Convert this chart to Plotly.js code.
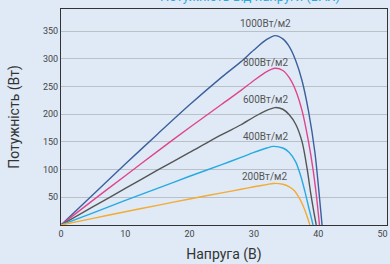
<!DOCTYPE html>
<html><head><meta charset="utf-8">
<script src="https://cdn.plot.ly/plotly-3.0.1.min.js"></script>
<style>html,body{margin:0;padding:0;background:#dfeaf6;}#c{width:390px;height:264px;}</style>
</head><body><div id="c"></div>
<script>
const v1000 = [0,5,10,15,20,25,28,30,32,33.3,34.5,35.5,36.5,37.5,38.5,39.5,40.1,40.6];
const p1000 = [0,55,110,164,217,267,295,316,335,342,336,322,297,260,205,130,62,0];
const v800 = [0,5,10,15,20,25,28,30,32,33.3,34.5,35.5,36.5,37.5,38.5,39.2,39.7,40.2];
const p800 = [0,45,89,133,176,218,243,261,277,283,279,266,243,206,150,100,55,0];
const v600 = [0,5,10,15,20,25,28,30,32,33.3,34.5,35.5,36.5,37.5,38.3,38.8,39.3,39.7];
const p600 = [0,33,66,99,131,163,181,195,207,212,209,199,182,150,100,60,25,0];
const v400 = [0,5,10,15,20,25,28,30,32,33,34.5,35.5,36.5,37.3,37.9,38.5,39.2];
const p400 = [0,22,44.5,66,88,109,122,131,139,142,139,131,114,88,62,33,0];
const v200 = [0,5,10,15,20,25,28,30,32,33,34.5,35.5,36.3,37,37.6,38.2,38.7];
const p200 = [0,12,24,35.5,47,58,64.5,69,73,75,73.5,69,62,50,36,18,0];

const seriesNames = ["1000Вт/м2","800Вт/м2","600Вт/м2","400Вт/м2","200Вт/м2"];
const labelX = [31.8,31.8,31.8,31.8,31.6];
const labelY = [364,293,226,159,87];
const xTicks = [0,10,20,30,40,50];
const yTicks = [50,100,150,200,250,300,350];
const titleText = "Потужність від напруги (ВАХ)";

const colors = ["#3d5f9c","#e0458c","#555555","#27aae1","#f2ab33"];
const xs = [v1000,v800,v600,v400,v200];
const ys = [p1000,p800,p600,p400,p200];
const traces = xs.map((x,i)=>({x:x,y:ys[i],type:"scatter",mode:"lines",name:seriesNames[i],
  line:{color:colors[i],width:1.4,shape:"spline",smoothing:0.8},hoverinfo:"skip"}));

const annos = seriesNames.map((t,i)=>({x:labelX[i],y:labelY[i],text:t,showarrow:false,xanchor:"center",yanchor:"middle",
    font:{size:10,color:"#555"}}));
annos.push({xref:"paper",yref:"paper",x:0.58,y:1,yshift:3,xanchor:"center",yanchor:"bottom",showarrow:false,
  text:titleText,font:{size:13,color:"#29a8e0"}});

const layout = {
  width:390,height:264,
  paper_bgcolor:"#dfeaf6",plot_bgcolor:"#dfeaf6",
  margin:{l:61,r:3,t:9,b:39},
  showlegend:false,
  font:{family:"Roboto, sans-serif",color:"#444"},
  xaxis:{range:[0,50.7],tickvals:xTicks,ticktext:xTicks.map(String),showgrid:false,zeroline:false,
    showline:true,mirror:true,linecolor:"#333",linewidth:1,ticks:"",tickfont:{size:9,color:"#444"},
    title:{text:"Напруга (В)",font:{size:14,color:"#333"},standoff:11}},
  yaxis:{range:[0,390],tickvals:yTicks,ticktext:yTicks.map(String),showgrid:true,gridcolor:"#b9c0c8",gridwidth:1,zeroline:false,
    showline:true,mirror:true,linecolor:"#333",linewidth:1,ticks:"",tickfont:{size:9,color:"#444"},
    title:{text:"Потужність (Вт)",font:{size:14,color:"#333"},standoff:20}},
  annotations: annos
};
Plotly.newPlot("c",traces,layout,{staticPlot:true,displayModeBar:false});
</script></body></html>
